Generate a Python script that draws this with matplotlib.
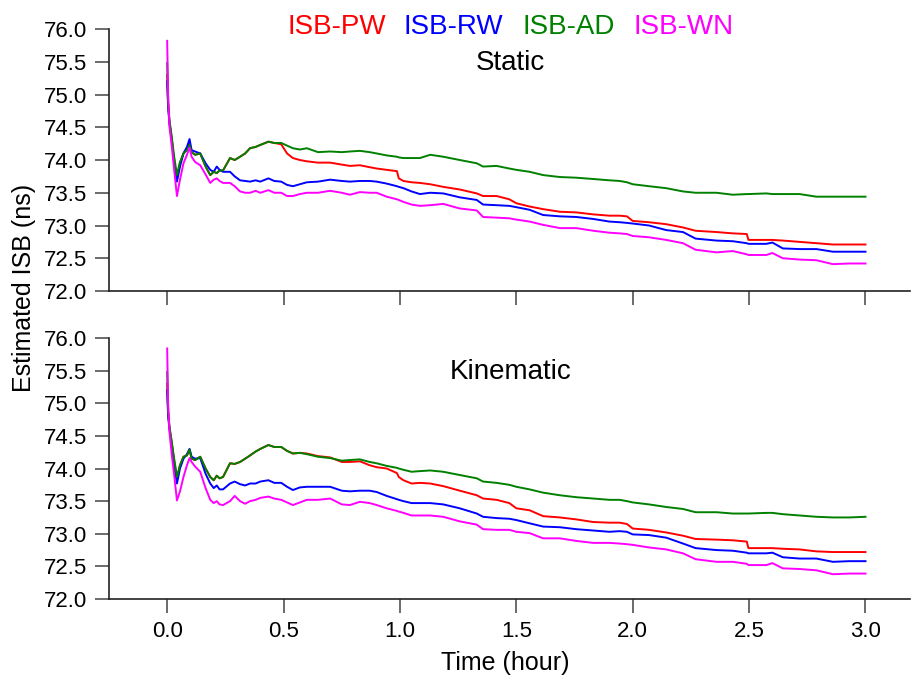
import matplotlib
matplotlib.use("Agg")
import matplotlib.pyplot as plt
from matplotlib.ticker import MultipleLocator, FormatStrFormatter

plt.rcParams['font.family'] = ['Liberation Sans', 'DejaVu Sans']

# shared time axis (hour)
hours = [0.0, 0.004, 0.01, 0.02, 0.03, 0.042, 0.055, 0.07, 0.085, 0.096,
         0.105, 0.12, 0.142, 0.165, 0.185, 0.2, 0.213, 0.225, 0.24, 0.27,
         0.29, 0.313, 0.335, 0.356, 0.38, 0.4, 0.435, 0.46, 0.49, 0.515,
         0.54, 0.57, 0.6, 0.648, 0.70, 0.75, 0.785, 0.828, 0.87, 0.90,
         0.943, 0.987, 0.995, 1.015, 1.05, 1.086, 1.13, 1.186, 1.257, 1.33,
         1.357, 1.415, 1.47, 1.5, 1.557, 1.615, 1.687, 1.758, 1.83, 1.90,
         1.944, 1.975, 2.0, 2.07, 2.144, 2.216, 2.27, 2.36, 2.43, 2.49,
         2.497, 2.574, 2.6, 2.645, 2.717, 2.789, 2.86, 2.93, 3.0]

# static
static_pw = [75.3, 74.85, 74.58, 74.3, 74.0, 73.72, 73.95, 74.1, 74.18, 74.25,
             74.12, 74.08, 74.1, 73.9, 73.77, 73.82, 73.8, 73.84, 73.84, 74.03,
             74.0, 74.05, 74.1, 74.18, 74.2, 74.23, 74.28, 74.26, 74.24, 74.1,
             74.03, 74.0, 73.98, 73.96, 73.96, 73.93, 73.91, 73.92, 73.89, 73.87,
             73.85, 73.83, 73.72, 73.68, 73.66, 73.65, 73.63, 73.59, 73.55, 73.49,
             73.45, 73.45, 73.4, 73.34, 73.29, 73.25, 73.21, 73.2, 73.17, 73.15,
             73.15, 73.14, 73.07, 73.05, 73.02, 72.97, 72.92, 72.9, 72.88, 72.87,
             72.78, 72.78, 72.78, 72.77, 72.75, 72.73, 72.71, 72.71, 72.71]
static_rw = [75.2, 74.8, 74.55, 74.3, 73.95, 73.67, 73.9, 74.1, 74.2, 74.32,
             74.15, 74.13, 74.1, 73.95, 73.85, 73.82, 73.9, 73.85, 73.82, 73.82,
             73.75, 73.69, 73.68, 73.67, 73.69, 73.67, 73.72, 73.68, 73.67, 73.62,
             73.6, 73.63, 73.66, 73.67, 73.7, 73.68, 73.67, 73.68, 73.68, 73.67,
             73.64, 73.6, 73.59, 73.57, 73.52, 73.48, 73.5, 73.49, 73.43, 73.39,
             73.32, 73.31, 73.3, 73.28, 73.24, 73.16, 73.14, 73.13, 73.1, 73.06,
             73.05, 73.04, 73.03, 73.0, 72.93, 72.9, 72.8, 72.77, 72.76, 72.73,
             72.72, 72.72, 72.74, 72.65, 72.64, 72.64, 72.6, 72.6, 72.6]
static_ad = [75.48, 74.9, 74.6, 74.35, 74.05, 73.77, 73.97, 74.1, 74.15, 74.23,
             74.12, 74.08, 74.1, 73.9, 73.77, 73.82, 73.8, 73.84, 73.84, 74.03,
             74.0, 74.05, 74.1, 74.18, 74.2, 74.23, 74.28, 74.26, 74.26, 74.22,
             74.18, 74.16, 74.18, 74.12, 74.13, 74.12, 74.13, 74.14, 74.12, 74.10,
             74.07, 74.05, 74.04, 74.03, 74.03, 74.03, 74.08, 74.05, 74.0, 73.95,
             73.9, 73.91, 73.87, 73.85, 73.82, 73.77, 73.74, 73.73, 73.71, 73.69,
             73.68, 73.66, 73.63, 73.6, 73.57, 73.52, 73.5, 73.5, 73.47, 73.48,
             73.48, 73.49, 73.48, 73.48, 73.48, 73.44, 73.44, 73.44, 73.44]
static_wn = [75.82, 75.0, 74.5, 74.2, 73.85, 73.45, 73.7, 73.95, 74.08, 74.19,
             74.05, 73.97, 73.92, 73.78, 73.65, 73.7, 73.72, 73.68, 73.65, 73.65,
             73.6, 73.52, 73.5, 73.5, 73.53, 73.5, 73.54, 73.5, 73.5, 73.45,
             73.45, 73.48, 73.5, 73.5, 73.53, 73.5, 73.47, 73.51, 73.5, 73.5,
             73.44, 73.4, 73.39, 73.36, 73.32, 73.3, 73.31, 73.33, 73.26, 73.23,
             73.13, 73.12, 73.11, 73.09, 73.06, 73.01, 72.96, 72.96, 72.92, 72.89,
             72.88, 72.87, 72.84, 72.82, 72.78, 72.73, 72.63, 72.59, 72.61, 72.56,
             72.55, 72.55, 72.58, 72.5, 72.48, 72.47, 72.41, 72.42, 72.42]

# kinematic
kin_pw = [75.3, 74.85, 74.62, 74.38, 74.12, 73.85, 74.05, 74.18, 74.2, 74.29,
          74.15, 74.13, 74.18, 74.0, 73.87, 73.82, 73.89, 73.85, 73.87, 74.08,
          74.07, 74.1, 74.15, 74.2, 74.26, 74.3, 74.36, 74.33, 74.33, 74.27,
          74.23, 74.24, 74.23, 74.19, 74.17, 74.1, 74.1, 74.11, 74.05, 74.02,
          74.0, 73.93, 73.87, 73.82, 73.77, 73.78, 73.77, 73.73, 73.66, 73.59,
          73.54, 73.52, 73.47, 73.39, 73.36, 73.27, 73.25, 73.22, 73.18, 73.17,
          73.17, 73.15, 73.08, 73.06, 73.02, 72.97, 72.92, 72.91, 72.9, 72.88,
          72.78, 72.78, 72.78, 72.77, 72.76, 72.73, 72.72, 72.72, 72.72]
kin_rw = [75.2, 74.8, 74.6, 74.35, 74.05, 73.77, 74.0, 74.15, 74.22, 74.3,
          74.18, 74.15, 74.16, 73.92, 73.77, 73.7, 73.74, 73.68, 73.68, 73.77,
          73.8, 73.76, 73.74, 73.77, 73.77, 73.8, 73.82, 73.78, 73.78, 73.72,
          73.67, 73.71, 73.72, 73.72, 73.72, 73.66, 73.65, 73.66, 73.66, 73.64,
          73.58, 73.53, 73.52, 73.5, 73.47, 73.47, 73.47, 73.45, 73.39, 73.31,
          73.26, 73.24, 73.23, 73.21, 73.16, 73.11, 73.1, 73.07, 73.05, 73.03,
          73.04, 73.03, 72.99, 72.98, 72.94, 72.85, 72.78, 72.75, 72.74, 72.71,
          72.7, 72.7, 72.71, 72.64, 72.62, 72.62, 72.57, 72.58, 72.58]
kin_ad = [75.48, 74.9, 74.64, 74.4, 74.15, 73.87, 74.05, 74.18, 74.2, 74.29,
          74.15, 74.13, 74.18, 74.0, 73.87, 73.82, 73.89, 73.85, 73.87, 74.08,
          74.07, 74.1, 74.15, 74.2, 74.26, 74.3, 74.36, 74.33, 74.33, 74.27,
          74.23, 74.24, 74.22, 74.18, 74.16, 74.12, 74.13, 74.14, 74.1, 74.08,
          74.04, 74.01, 74.0, 73.98, 73.95, 73.96, 73.97, 73.95, 73.9, 73.85,
          73.8, 73.78, 73.75, 73.72, 73.68, 73.63, 73.59, 73.56, 73.54, 73.52,
          73.52, 73.5, 73.48, 73.45, 73.41, 73.38, 73.33, 73.33, 73.31, 73.31,
          73.31, 73.32, 73.32, 73.3, 73.28, 73.26, 73.25, 73.25, 73.26]
kin_wn = [75.84, 75.0, 74.55, 74.2, 73.9, 73.51, 73.65, 73.87, 74.05, 74.16,
          74.1, 74.03, 73.95, 73.7, 73.52, 73.47, 73.5, 73.45, 73.44, 73.5,
          73.58, 73.5, 73.46, 73.5, 73.52, 73.55, 73.57, 73.54, 73.52, 73.48,
          73.44, 73.48, 73.52, 73.52, 73.54, 73.45, 73.44, 73.49, 73.47, 73.44,
          73.39, 73.35, 73.34, 73.32, 73.28, 73.28, 73.28, 73.26, 73.19, 73.14,
          73.07, 73.06, 73.06, 73.03, 73.01, 72.93, 72.93, 72.89, 72.86, 72.86,
          72.85, 72.84, 72.83, 72.79, 72.76, 72.7, 72.61, 72.57, 72.57, 72.54,
          72.52, 72.52, 72.55, 72.47, 72.46, 72.44, 72.38, 72.39, 72.39]

labels = ['ISB-PW', 'ISB-RW', 'ISB-AD', 'ISB-WN']
colors = ['#ff0000', '#0000ff', '#008000', '#ff00ff']

fig = plt.figure(figsize=(9.12, 6.86), dpi=100)
ax1 = fig.add_axes([0.1195, 0.5758, 0.878, 0.3819])
ax2 = fig.add_axes([0.1195, 0.1268, 0.878, 0.3805])

panels = [(ax1, [static_pw, static_rw, static_ad, static_wn], 'Static'),
          (ax2, [kin_pw, kin_rw, kin_ad, kin_wn], 'Kinematic')]

for ax, series, name in panels:
    for vals, c in zip(series, colors):
        ax.plot(hours, vals, color=c, lw=1.4)
    ax.set_xlim(-0.25, 3.19)
    ax.set_ylim(72, 76)
    ax.yaxis.set_major_locator(MultipleLocator(0.5))
    ax.yaxis.set_major_formatter(FormatStrFormatter('%.1f'))
    ax.set_xticks([0.0, 0.5, 1.0, 1.5, 2.0, 2.5, 3.0])
    ax.xaxis.set_major_formatter(FormatStrFormatter('%.1f'))
    ax.spines['top'].set_visible(False)
    ax.spines['right'].set_visible(False)
    for s in ['left', 'bottom']:
        ax.spines[s].set_linewidth(1.2)
        ax.spines[s].set_color('#222222')
    ax.tick_params(direction='out', length=10, width=1.1, color='#444444',
                   labelsize=16, pad=6)
    ax.text(1.476, 75.37, name, ha='center', va='baseline', fontsize=20)

ax1.tick_params(axis='x', labelbottom=False)

# legend as coloured text
leg_x = [0.3147, 0.4419, 0.5724, 0.6941]
for lab, c, x in zip(labels, colors, leg_x):
    fig.text(x, 0.9504, lab, color=c, fontsize=20, ha='left', va='baseline')

fig.text(0.026, 0.58, 'Estimated ISB (ns)', rotation=90, ha='center',
         va='center', fontsize=18)
fig.text(0.5537, 0.0335, 'Time (hour)', ha='center', va='center', fontsize=18)

fig.savefig('out.png', dpi=100)
